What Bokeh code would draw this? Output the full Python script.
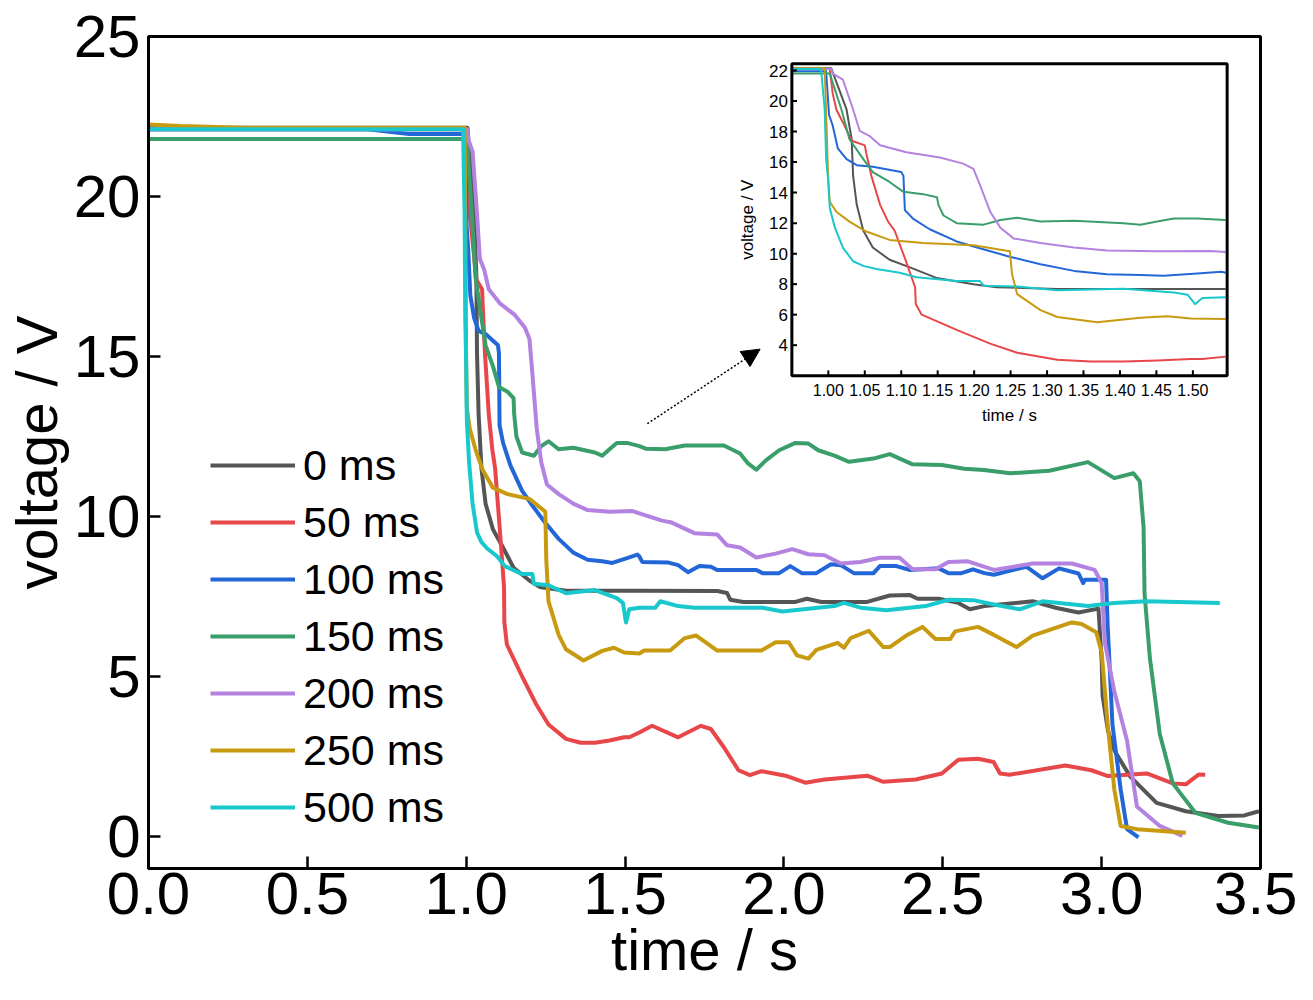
import numpy as np
from bokeh.plotting import figure
from bokeh.models import (Range1d, FixedTicker, NumeralTickFormatter, Legend, LegendItem,
                          Arrow, NormalHead, Label)
from bokeh.core.properties import value
from bokeh.embed import file_html
from bokeh.resources import INLINE

# values: time in s, voltage in V
labels = ["0 ms", "50 ms", "100 ms", "150 ms", "200 ms", "250 ms", "500 ms"]
colors = ["#555555", "#e8474a", "#2266d8", "#3a9e6a", "#b482e0", "#c89a10", "#18c8cc"]

t_0ms = [0.0, 0.95, 1.004, 1.013, 1.025, 1.032, 1.034, 1.039, 1.048, 1.061, 1.084, 1.112, 1.149,
         1.199, 1.231, 1.314, 1.545, 1.79, 1.821, 1.831, 1.872, 2.036, 2.072, 2.118, 2.262, 2.333,
         2.395, 2.421, 2.487, 2.549, 2.585, 2.631, 2.783, 2.855, 2.927, 2.99, 3.0, 3.003, 3.02,
         3.04, 3.09, 3.173, 3.265, 3.367, 3.449, 3.495]
v_0ms = [22.15, 22.15, 22.15, 21.0, 19.45, 17.5, 15.1, 13.2, 11.5, 10.4, 9.6, 9.1, 8.4,
         8.0, 7.8, 7.68, 7.68, 7.67, 7.61, 7.4, 7.33, 7.33, 7.43, 7.33, 7.33, 7.53,
         7.55, 7.43, 7.43, 7.3, 7.1, 7.2, 7.35, 7.15, 7.0, 7.12, 5.5, 4.4, 3.3,
         2.69, 1.87, 1.05, 0.79, 0.64, 0.66, 0.79]

t_50ms = [0.0, 0.95, 1.002, 1.006, 1.011, 1.02, 1.032, 1.05, 1.052, 1.059, 1.071, 1.082, 1.091,
          1.105, 1.119, 1.12, 1.128, 1.176, 1.222, 1.259, 1.314, 1.36, 1.405, 1.451, 1.497, 1.513,
          1.545, 1.585, 1.667, 1.739, 1.77, 1.811, 1.857, 1.893, 1.929, 2.005, 2.067, 2.128, 2.262,
          2.313, 2.415, 2.497, 2.549, 2.611, 2.66, 2.68, 2.71, 2.886, 2.968, 3.02, 3.142, 3.224,
          3.265, 3.306, 3.326]
v_50ms = [22.1, 22.1, 22.1, 20.5, 19.45, 18.6, 17.4, 17.1, 16.6, 15.1, 13.2, 12.1, 11.5,
          9.7, 7.8, 6.7, 6.0, 5.0, 4.1, 3.5, 3.05, 2.93, 2.93, 3.0, 3.1, 3.1,
          3.25, 3.46, 3.1, 3.46, 3.36, 2.79, 2.07, 1.92, 2.04, 1.9, 1.68, 1.78, 1.9,
          1.71, 1.78, 1.97, 2.4, 2.43, 2.33, 1.97, 1.93, 2.22, 2.07, 1.89, 1.97, 1.66,
          1.63, 1.94, 1.93]

t_100ms = [0.0, 0.69, 0.82, 0.95, 0.997, 1.001, 1.006, 1.013, 1.025, 1.039, 1.061, 1.1, 1.103,
           1.105, 1.116, 1.139, 1.176, 1.204, 1.245, 1.291, 1.337, 1.382, 1.428, 1.46, 1.506,
           1.539, 1.545, 1.554, 1.637, 1.667, 1.698, 1.734, 1.77, 1.79, 1.913, 1.933, 1.985,
           2.02, 2.056, 2.102, 2.148, 2.179, 2.22, 2.282, 2.302, 2.354, 2.395, 2.487, 2.518,
           2.559, 2.595, 2.631, 2.661, 2.763, 2.814, 2.866, 2.927, 2.942, 2.947, 3.014, 3.019,
           3.034, 3.06, 3.08, 3.116]
v_100ms = [22.1, 22.1, 21.95, 21.95, 21.95, 19.1, 18.4, 16.9, 16.2, 15.8, 15.7, 15.35, 15.1,
           12.85, 12.3, 11.6, 10.8, 10.4, 9.85, 9.3, 8.87, 8.65, 8.6, 8.55, 8.7,
           8.81, 8.75, 8.58, 8.56, 8.48, 8.26, 8.45, 8.43, 8.33, 8.33, 8.23, 8.23,
           8.45, 8.23, 8.23, 8.51, 8.48, 8.23, 8.23, 8.45, 8.45, 8.33, 8.38, 8.23,
           8.23, 8.35, 8.23, 8.18, 8.43, 8.07, 8.38, 8.22, 7.92, 8.02, 8.02, 6.58,
           3.5, 1.46, 0.23, -0.03]

t_150ms = [0.0, 0.95, 0.995, 1.002, 1.018, 1.029, 1.048, 1.061, 1.084, 1.103, 1.13, 1.149, 1.151,
           1.158, 1.176, 1.213, 1.236, 1.259, 1.291, 1.337, 1.405, 1.428, 1.451, 1.474, 1.506,
           1.545, 1.565, 1.626, 1.688, 1.811, 1.862, 1.887, 1.913, 1.944, 1.985, 2.036, 2.077,
           2.108, 2.159, 2.205, 2.282, 2.333, 2.405, 2.497, 2.568, 2.63, 2.712, 2.835, 2.957,
           3.04, 3.1, 3.12, 3.132, 3.135, 3.152, 3.183, 3.224, 3.295, 3.398, 3.495]
v_150ms = [21.8, 21.8, 21.8, 21.8, 19.45, 17.5, 16.2, 15.35, 14.7, 14.05, 13.9, 13.7, 13.2,
           12.5, 12.0, 11.9, 12.2, 12.35, 12.1, 12.15, 12.0, 11.9, 12.1, 12.3, 12.3,
           12.2, 12.12, 12.1, 12.22, 12.22, 11.97, 11.66, 11.46, 11.76, 12.07, 12.3, 12.28,
           12.07, 11.9, 11.71, 11.81, 11.95, 11.63, 11.61, 11.49, 11.45, 11.35, 11.43, 11.7,
           11.2, 11.35, 11.1, 9.66, 7.6, 5.56, 3.2, 1.66, 0.74, 0.43, 0.28]

t_200ms = [0.0, 0.95, 1.004, 1.006, 1.02, 1.034, 1.043, 1.057, 1.071, 1.107, 1.153, 1.185, 1.199,
           1.208, 1.222, 1.236, 1.254, 1.291, 1.337, 1.382, 1.451, 1.524, 1.545, 1.616, 1.647,
           1.718, 1.79, 1.821, 1.862, 1.913, 1.974, 2.026, 2.077, 2.128, 2.179, 2.241, 2.302,
           2.364, 2.405, 2.477, 2.518, 2.579, 2.661, 2.783, 2.906, 2.978, 3.0, 3.01, 3.04,
           3.08, 3.111, 3.183, 3.254]
v_200ms = [22.1, 22.1, 22.1, 21.8, 21.4, 19.45, 18.05, 17.7, 17.1, 16.65, 16.3, 15.9, 15.55,
           14.5, 12.75, 11.7, 11.0, 10.7, 10.4, 10.2, 10.15, 10.17, 10.1, 9.87, 9.81,
           9.48, 9.44, 9.1, 9.03, 8.72, 8.84, 8.98, 8.82, 8.79, 8.53, 8.58, 8.71,
           8.71, 8.35, 8.35, 8.58, 8.6, 8.33, 8.53, 8.53, 8.33, 7.92, 6.07, 4.53,
           2.99, 0.94, 0.33, 0.02]

t_250ms = [0.0, 0.1, 0.3, 0.95, 0.995, 1.0, 1.002, 1.011, 1.029, 1.052, 1.084, 1.13, 1.199,
           1.249, 1.252, 1.259, 1.291, 1.314, 1.369, 1.428, 1.465, 1.497, 1.545, 1.56, 1.642,
           1.688, 1.724, 1.79, 1.929, 1.974, 2.015, 2.041, 2.077, 2.102, 2.169, 2.189, 2.21,
           2.267, 2.313, 2.333, 2.385, 2.436, 2.477, 2.523, 2.539, 2.611, 2.661, 2.732, 2.783,
           2.906, 2.937, 2.983, 3.0, 3.019, 3.04, 3.06, 3.111, 3.265]
v_250ms = [22.25, 22.2, 22.15, 22.15, 22.15, 14.7, 13.4, 12.75, 12.1, 11.45, 10.9, 10.7, 10.55,
           10.15, 8.65, 7.35, 6.3, 5.85, 5.5, 5.8, 5.9, 5.75, 5.72, 5.81, 5.81,
           6.2, 6.28, 5.81, 5.81, 6.07, 6.07, 5.66, 5.56, 5.83, 6.05, 5.9, 6.2,
           6.43, 5.92, 5.92, 6.28, 6.55, 6.17, 6.17, 6.41, 6.55, 6.3, 5.92, 6.28,
           6.69, 6.64, 6.38, 5.76, 3.5, 1.46, 0.33, 0.23, 0.12]

t_500ms = [0.0, 0.95, 0.99, 0.995, 0.997, 1.0, 1.002, 1.009, 1.02, 1.034, 1.048, 1.066, 1.098,
           1.121, 1.176, 1.208, 1.213, 1.259, 1.314, 1.405, 1.474, 1.493, 1.503, 1.513, 1.545,
           1.595, 1.611, 1.667, 1.718, 1.933, 1.995, 2.159, 2.189, 2.241, 2.323, 2.446, 2.518,
           2.6, 2.661, 2.742, 2.814, 2.957, 3.04, 3.14, 3.372]
v_500ms = [22.1, 22.1, 22.1, 19.45, 16.2, 14.7, 13.0, 11.7, 10.4, 9.5, 9.2, 9.0, 8.75,
           8.45, 8.2, 8.2, 7.9, 7.85, 7.6, 7.7, 7.45, 7.3, 6.69, 7.1, 7.15,
           7.15, 7.35, 7.2, 7.15, 7.15, 7.03, 7.2, 7.3, 7.15, 7.07, 7.2, 7.4,
           7.38, 7.25, 7.1, 7.35, 7.2, 7.3, 7.35, 7.3]

series = [(t_0ms, v_0ms), (t_50ms, v_50ms), (t_100ms, v_100ms), (t_150ms, v_150ms),
          (t_200ms, v_200ms), (t_250ms, v_250ms), (t_500ms, v_500ms)]

x_ticks = [0.0, 0.5, 1.0, 1.5, 2.0, 2.5, 3.0, 3.5]
y_ticks = [0, 5, 10, 15, 20, 25]
inset_x_ticks = [1.00, 1.05, 1.10, 1.15, 1.20, 1.25, 1.30, 1.35, 1.40, 1.45, 1.50]
inset_y_ticks = [4, 6, 8, 10, 12, 14, 16, 18, 20, 22]

FONT = "Liberation Sans"

p = figure(width=1297, height=984, x_range=Range1d(0, 3.5), y_range=Range1d(-1, 25),
           output_backend="svg", toolbar_location=None,
           min_border_left=100, min_border_right=37, min_border_top=36, min_border_bottom=100)
p.grid.visible = False
p.outline_line_color = "black"
p.outline_line_width = 3
p.outline_line_alpha = 1

p.xaxis.ticker = FixedTicker(ticks=x_ticks)
p.xaxis.formatter = NumeralTickFormatter(format="0.0")
p.yaxis.ticker = FixedTicker(ticks=y_ticks)
for ax in (p.xaxis, p.yaxis):
    ax.axis_line_width = 3
    ax.major_tick_line_width = 2.5
    ax.major_tick_in = 12
    ax.major_tick_out = 0
    ax.minor_tick_line_color = None
    ax.major_label_text_font = FONT
    ax.major_label_text_font_size = "60px"
    ax.major_label_text_color = "black"
    ax.axis_label_text_font = FONT
    ax.axis_label_text_font_size = "58px"
    ax.axis_label_text_font_style = "normal"
    ax.axis_label_text_color = "black"
p.xaxis.axis_label = "time / s"
p.yaxis.axis_label = "voltage / V"
p.xaxis.major_label_standoff = 4
p.yaxis.major_label_standoff = 8
p.xaxis.axis_label_standoff = 0
p.yaxis.axis_label_standoff = 2

# main curves
items = []
for (t, v), lab, col in zip(series, labels, colors):
    r = p.line(t, v, line_color=col, line_width=4, line_join="round")
    items.append(LegendItem(label=lab, renderers=[r]))

legend = Legend(items=items, location=(62, 36), glyph_width=85, glyph_height=50,
                label_height=50, spacing=7, label_standoff=8, padding=0, margin=0,
                border_line_color=None, background_fill_alpha=0,
                label_text_font=FONT, label_text_font_size="43px", label_text_color="black")
p.add_layout(legend)

# inset: data window and where it sits, in main-axis units
ix0, ix1, iy0, iy1 = 0.95, 1.547, 2.0, 22.45
box_l, box_r, box_b, box_t = 2.025, 3.395, 14.4, 24.15
bx = (box_r - box_l) / (ix1 - ix0)
by = (box_t - box_b) / (iy1 - iy0)
p.extra_x_ranges = {"ix": Range1d(ix0 - (box_l - 0.0) / bx, ix0 + (3.5 - box_l) / bx)}
p.extra_y_ranges = {"iy": Range1d(iy0 - (box_b + 1.0) / by, iy0 + (25 - box_b) / by)}
kw = dict(x_range_name="ix", y_range_name="iy")

p.quad(left=[ix0], right=[ix1], bottom=[iy0], top=[iy1], fill_color="white",
       line_color=None, **kw)
for (t, v), col in zip(series, colors):
    t = np.array(t)
    v = np.array(v)
    keep = (t >= ix0) & (t <= ix1)
    p.line(t[keep], v[keep], line_color=col, line_width=2, line_join="round", **kw)
p.quad(left=[ix0], right=[ix1], bottom=[iy0], top=[iy1], fill_color=None,
       line_color="black", line_width=3, **kw)

xt = np.array(inset_x_ticks)
yt = np.array(inset_y_ticks)
p.segment(x0=xt, x1=xt, y0=np.full(len(xt), iy0), y1=np.full(len(xt), iy0 + 0.35),
          line_color="black", line_width=2, **kw)
p.segment(x0=np.full(len(yt), ix0), x1=np.full(len(yt), ix0 + 0.007), y0=yt, y1=yt,
          line_color="black", line_width=2, **kw)
p.text(x=xt, y=np.full(len(xt), iy0), text=["%.2f" % x for x in inset_x_ticks],
       text_align="center", text_baseline="top", y_offset=8,
       text_font=value(FONT), text_font_size="16px", text_color="black", **kw)
p.text(x=np.full(len(yt), ix0), y=yt, text=[str(y) for y in inset_y_ticks],
       text_align="right", text_baseline="middle", x_offset=-4,
       text_font=value(FONT), text_font_size="17px", text_color="black", **kw)
p.add_layout(Label(x=(ix0 + ix1) / 2, y=iy0, text="time / s", text_align="center",
                   text_baseline="middle", y_offset=-40, text_font=FONT,
                   text_font_size="17px", text_color="black", **kw))
p.add_layout(Label(x=ix0, y=(iy0 + iy1) / 2, text="voltage / V", angle=np.pi / 2,
                   text_align="center", text_baseline="middle", x_offset=-44,
                   text_font=FONT, text_font_size="17px", text_color="black", **kw))

p.add_layout(Arrow(x_start=1.57, y_start=12.9, x_end=1.925, y_end=15.23,
                   line_color="black", line_width=1.5, line_dash="2 2",
                   end=NormalHead(size=18, fill_color="black", line_color="black")))

open("out.html", "w").write(file_html(p, INLINE))
